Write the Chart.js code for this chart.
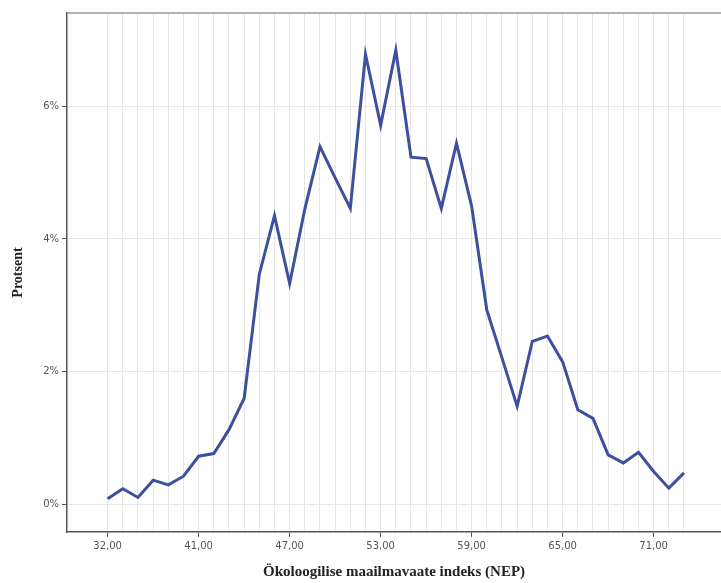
<!DOCTYPE html>
<html lang="et">
<head>
  <meta charset="UTF-8">
  <title>Ökoloogilise maailmavaate indeks (NEP)</title>
  <style>
    body { margin: 0; background: #ffffff; }
    .wrap { position: relative; width: 721px; height: 583px; }
  </style>
</head>
<body>
  <div class="wrap">
    <canvas id="nepChart" width="721" height="583"></canvas>
  </div>

  <script src="https://cdn.jsdelivr.net/npm/chart.js"></script>
  <script>
    // NEP skoorid (kategooriad) ja protsendid
    const nepScores = [32, 34, 35, 37, 38, 40, 41, 42, 43, 44, 45, 46, 47, 48, 49, 50, 51, 52, 53,
      54, 55, 56, 57, 58, 59, 60, 61, 62, 63, 64, 65, 66, 67, 68, 69, 70, 71, 72, 73];
    const percentValues = [0.09, 0.24, 0.11, 0.37, 0.30, 0.43, 0.73, 0.77, 1.13, 1.60, 3.47, 4.35, 3.33,
      4.45, 5.39, 4.92, 4.46, 6.78, 5.71, 6.84, 5.23, 5.21, 4.46, 5.44, 4.49, 2.93, 2.21, 1.48, 2.46,
      2.54, 2.15, 1.43, 1.30, 0.75, 0.63, 0.79, 0.50, 0.25, 0.48];
    const labeledScores = [32, 41, 47, 53, 59, 65, 71];
    const yTicks = [0, 2, 4, 6];

    const axisColor = '#555555';
    const gridColor = '#e6e6e6';

    // ülemine raamijoon
    const frame = {
      id: 'frame',
      beforeDatasetsDraw(chart) {
        const { ctx, chartArea } = chart;
        ctx.save();
        ctx.strokeStyle = '#9a9a9a';
        ctx.lineWidth = 1.5;
        ctx.beginPath();
        ctx.moveTo(chartArea.left, chartArea.top);
        ctx.lineTo(chartArea.right, chartArea.top);
        ctx.stroke();
        ctx.restore();
      }
    };

    new Chart(document.getElementById('nepChart'), {
      type: 'line',
      data: {
        datasets: [{
          data: percentValues.map((v, i) => ({ x: i, y: v })),
          borderColor: '#3f4f9f',
          borderWidth: 3,
          pointRadius: 0,
          tension: 0,
          fill: false
        }]
      },
      options: {
        responsive: false,
        animation: false,
        layout: { padding: { top: 13, right: 0, left: 0, bottom: 0 } },
        plugins: {
          legend: { display: false },
          tooltip: { enabled: false }
        },
        scales: {
          x: {
            type: 'linear',
            min: -2.68,
            max: 40.44,
            afterFit: s => { s.height = 51; },
            afterBuildTicks: s => { s.ticks = nepScores.map((_, i) => ({ value: i })); },
            border: { color: axisColor, width: 1.5 },
            grid: {
              color: gridColor,
              lineWidth: 1,
              tickLength: 5,
              tickColor: c => labeledScores.includes(nepScores[c.index]) ? axisColor : 'rgba(0,0,0,0)'
            },
            ticks: {
              autoSkip: false,
              maxRotation: 0,
              padding: 3,
              color: '#555555',
              font: { family: 'DejaVu Sans', size: 10 },
              callback: (v, i) => labeledScores.includes(nepScores[i]) ? nepScores[i].toFixed(2).replace('.', ',') : ''
            },
            title: {
              display: true,
              text: 'Ökoloogilise maailmavaate indeks (NEP)',
              color: '#222222',
              font: { family: 'Liberation Serif', size: 15, weight: 'bold' },
              padding: { top: 0, bottom: 2 }
            }
          },
          y: {
            min: -0.41,
            max: 7.4,
            afterFit: s => { s.width = 67; },
            afterBuildTicks: s => { s.ticks = yTicks.map(v => ({ value: v })); },
            border: { color: axisColor, width: 1.5 },
            grid: { color: '#e8e8e8', tickLength: 5, tickColor: axisColor },
            ticks: {
              padding: 3,
              color: '#555555',
              font: { family: 'DejaVu Sans', size: 10 },
              callback: v => v + '%'
            },
            title: {
              display: true,
              text: 'Protsent',
              color: '#222222',
              font: { family: 'Liberation Serif', size: 14, weight: 'bold' },
              padding: { top: 10, bottom: 0 }
            }
          }
        }
      },
      plugins: [frame]
    });
  </script>
</body>
</html>
